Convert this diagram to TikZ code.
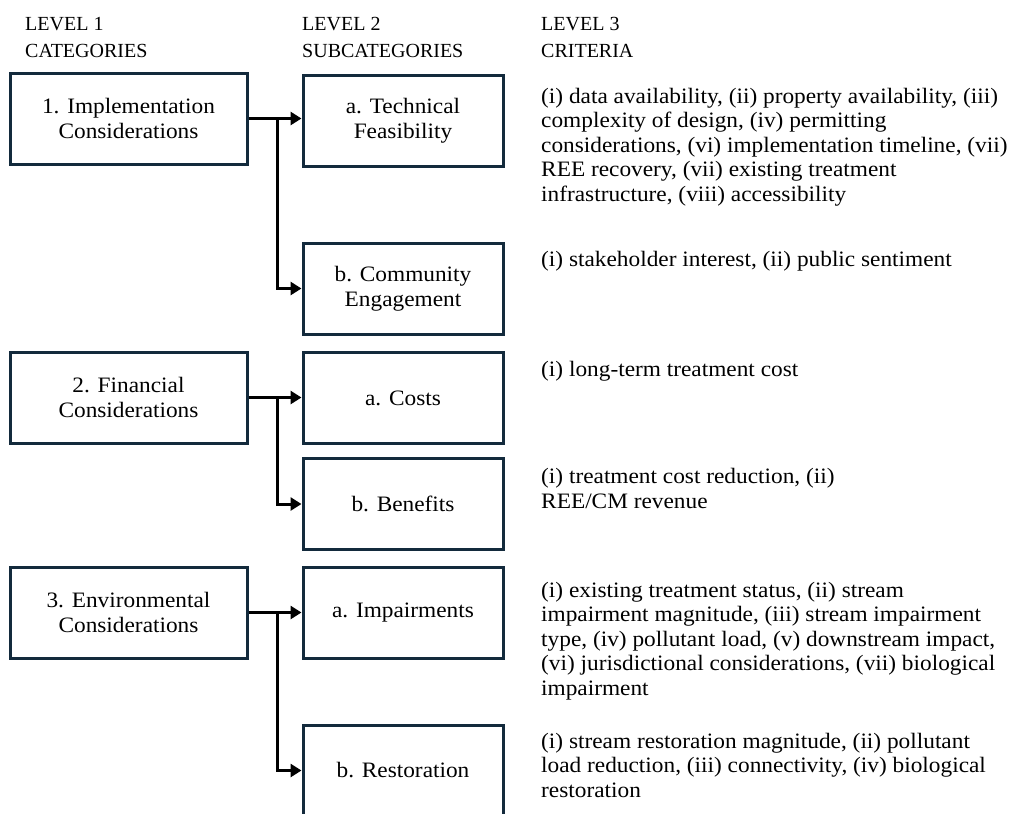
\documentclass[tikz,border=0pt]{standalone}
\usepackage{fontspec}
\setmainfont{Liberation Serif}[FakeStretch=1.06]
\newfontfamily\headfont{Liberation Serif}
\usetikzlibrary{positioning,arrows.meta}
\definecolor{boxline}{HTML}{132A3C}

\begin{document}
\begin{tikzpicture}[x=1pt, y=-1pt,
				font=\fontsize{22}{24.5}\selectfont,
				catbox/.style={rectangle, draw=boxline, line width=3pt, minimum width=237pt, minimum height=91pt, align=center, inner sep=0pt, font=\fontsize{22}{25.5}\selectfont},
				subbox/.style={rectangle, draw=boxline, line width=3pt, minimum width=200pt, minimum height=91pt, align=center, inner sep=0pt, font=\fontsize{22}{25.5}\selectfont},
				head/.style={rectangle, anchor=base west, align=left, inner sep=0pt, font=\headfont\fontsize{20}{27}\selectfont},
				crit/.style={rectangle, anchor=base west, align=left, inner sep=0pt},
				link/.style={line width=3pt, -{Triangle[length=11pt, width=13pt]}}
			]
			\useasboundingbox (0,0) rectangle (1013,814);
			% column heads (anchored at the last line)
			\node[head] (lev1) at (25,57) {LEVEL 1\\CATEGORIES};
			\node[head] (lev2) at (302,57) {LEVEL 2\\SUBCATEGORIES};
			\node[head] (lev3) at (541,57) {LEVEL 3\\CRITERIA};
			% level 1
			\node[catbox] (impl) at (128.5,118.5) {1. Implementation\\Considerations};
			\node[catbox] (fin) at (128.5,397.5) {2. Financial\\Considerations};
			\node[catbox] (env) at (128.5,612.5) {3. Environmental\\Considerations};
			% level 2
			\node[subbox] (tech) at (403,120.5) {a. Technical\\Feasibility};
			\node[subbox] (comm) at (403,288.5) {b. Community\\Engagement};
			\node[subbox] (costs) at (403,398) {a. Costs};
			\node[subbox] (ben) at (403,504) {b. Benefits};
			\node[subbox] (imp) at (403,612.5) {a. Impairments};
			\node[subbox] (rest) at (403,770.5) {b. Restoration};
			% level 3
			\node[crit] (critTech) at (541,201) {(i) data availability, (ii) property availability, (iii)\\complexity of design, (iv) permitting\\considerations, (vi) implementation timeline, (vii)\\REE recovery, (vii) existing treatment\\infrastructure, (viii) accessibility};
			\node[crit] (critComm) at (541,266) {(i) stakeholder interest, (ii) public sentiment};
			\node[crit] (critCosts) at (541,376) {(i) long-term treatment cost};
			\node[crit] (critBen) at (541,508) {(i) treatment cost reduction, (ii)\\REE/CM revenue};
			\node[crit] (critImp) at (541,695) {(i) existing treatment status, (ii) stream\\impairment magnitude, (iii) stream impairment\\type, (iv) pollutant load, (v) downstream impact,\\(vi) jurisdictional considerations, (vii) biological\\impairment};
			\node[crit] (critRest) at (541,797) {(i) stream restoration magnitude, (ii) pollutant\\load reduction, (iii) connectivity, (iv) biological\\restoration};
			% branch points
			\path (impl.east) ++(29,0) coordinate (split1);
			\path (fin.east) ++(29,0) coordinate (split2);
			\path (env.east) ++(29,0) coordinate (split3);
			\begin{scope}[link]
			\draw (impl.east) -- (impl.east -| tech.west);
			\draw (split1) |- (comm.west);
			\draw (fin.east) -- (fin.east -| costs.west);
			\draw (split2) |- (ben.west);
			\draw (env.east) -- (env.east -| imp.west);
			\draw (split3) |- (rest.west);
			\end{scope}
			\end{tikzpicture}
\end{document}
